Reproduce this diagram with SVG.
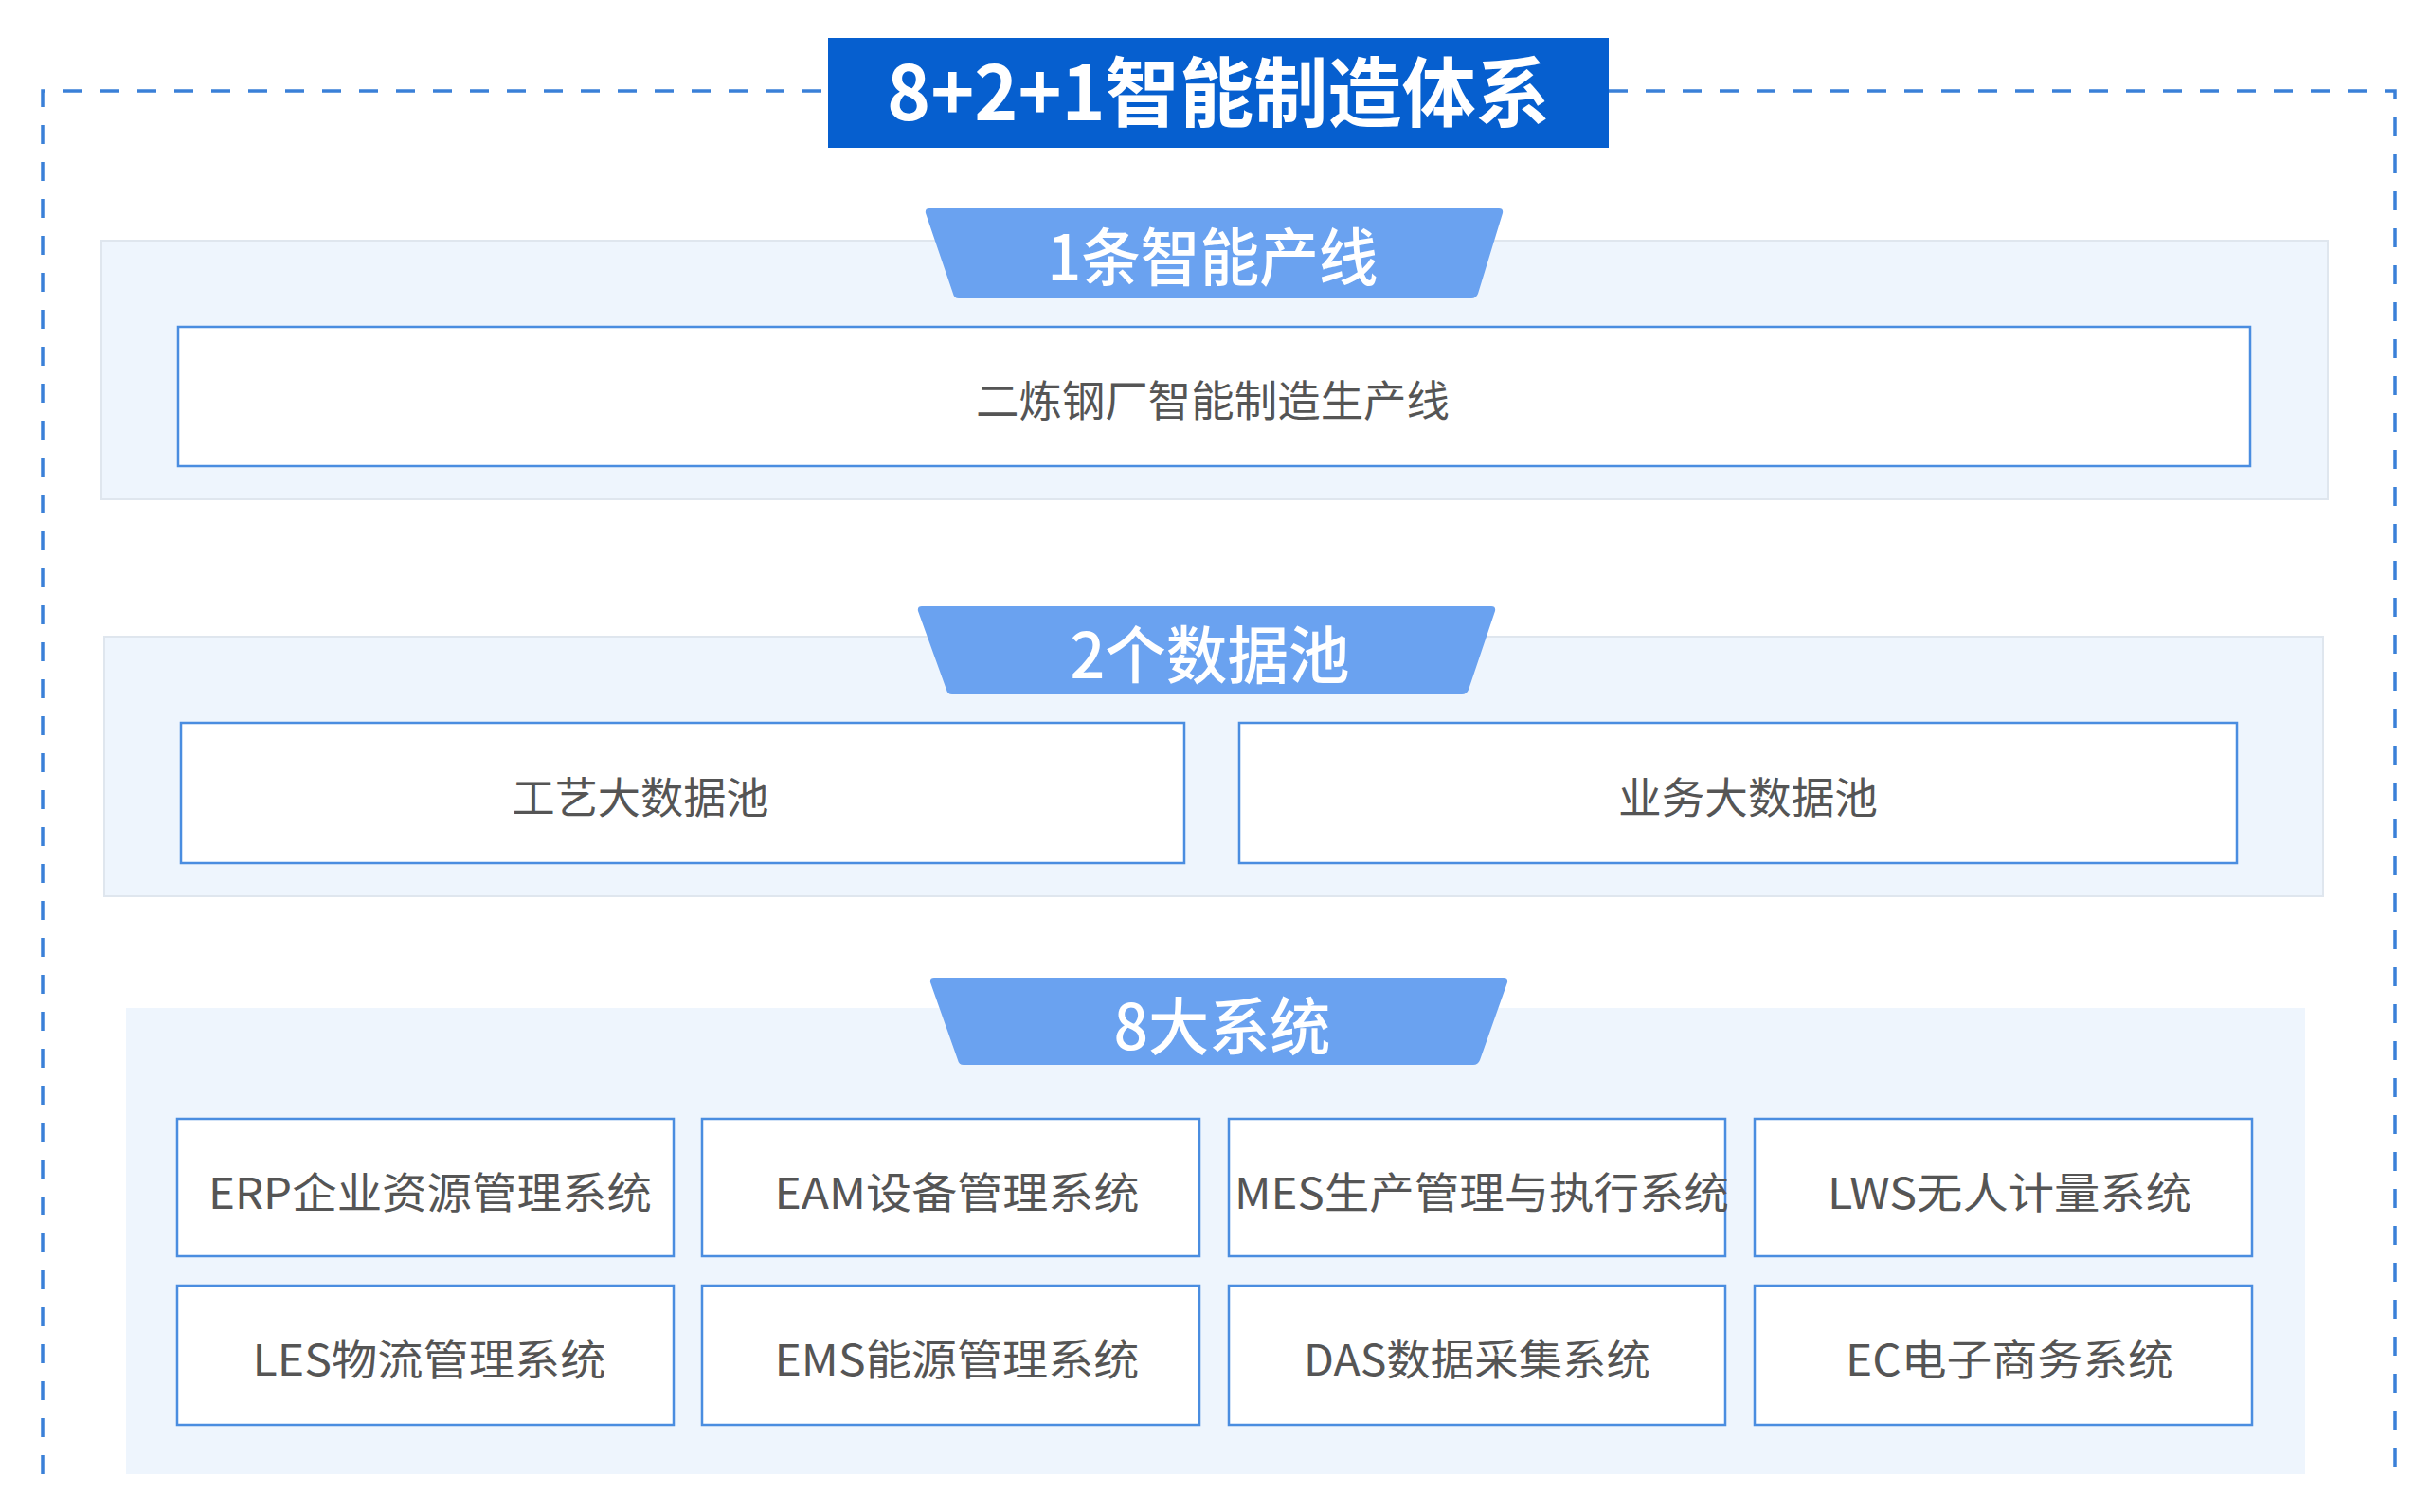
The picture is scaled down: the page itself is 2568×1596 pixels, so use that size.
<svg xmlns="http://www.w3.org/2000/svg" width="2568" height="1596" viewBox="0 0 2568 1596">
<style>
.panel{fill:#eef5fd;stroke:#dfe6ee;stroke-width:2}
.box{fill:#ffffff;stroke:#4a8de0;stroke-width:2.5}
.tab{fill:#6aa2f0}
.tabtxt{font-family:"Noto Sans CJK SC","Noto Sans",sans-serif;font-size:66px;font-weight:500;fill:#ffffff;text-anchor:middle;dominant-baseline:central}
.txt{font-family:"Noto Sans CJK SC","Noto Sans",sans-serif;font-size:45px;fill:#555555;text-anchor:middle;dominant-baseline:central}
.title{font-family:"Noto Sans CJK SC","Noto Sans",sans-serif;font-size:80px;font-weight:bold;fill:#ffffff;text-anchor:middle;dominant-baseline:central}
.dash{fill:none;stroke:#3a80d8;stroke-width:3.5;stroke-dasharray:20 19}
</style>
<rect width="2568" height="1596" fill="#ffffff"/>
<g id="frame">
<path class="dash" d="M45,1556 V96 H874"/>
<path class="dash" d="M1698,96 H2528 V1556"/>
</g>
<g id="title">
<rect x="874" y="40" width="824" height="116" fill="#065fcf"/>
<text class="title" x="1286" y="92" textLength="700" lengthAdjust="spacingAndGlyphs">8+2+1智能制造体系</text>
</g>
<g id="section1">
<rect class="panel" x="107" y="254" width="2350" height="273"/>
<path class="tab" d="M981,220 H1582 Q1587,220 1586,225 L1560,310 Q1558,315 1553,315 H1012 Q1007,315 1006,310 L977,225 Q976,220 981,220 Z"/>
<text class="tabtxt" x="1280" y="267" textLength="349" lengthAdjust="spacingAndGlyphs">1条智能产线</text>
</g>
<g id="node-line">
<rect class="box" x="188" y="345" width="2187" height="147"/>
<text class="txt" x="1280" y="420" textLength="500" lengthAdjust="spacingAndGlyphs">二炼钢厂智能制造生产线</text>
</g>
<g id="section2">
<rect class="panel" x="110" y="672" width="2342" height="274"/>
<path class="tab" d="M973,640 H1574 Q1579,640 1578,645 L1550,728 Q1548,733 1543,733 H1005 Q1000,733 999,728 L969,645 Q968,640 973,640 Z"/>
<text class="tabtxt" x="1277" y="687" textLength="295" lengthAdjust="spacingAndGlyphs">2个数据池</text>
</g>
<g id="node-pool1">
<rect class="box" x="191" y="763" width="1059" height="148"/>
<text class="txt" x="676" y="839" textLength="271" lengthAdjust="spacingAndGlyphs">工艺大数据池</text>
</g>
<g id="node-pool2">
<rect class="box" x="1308" y="763" width="1053" height="148"/>
<text class="txt" x="1845" y="839" textLength="274" lengthAdjust="spacingAndGlyphs">业务大数据池</text>
</g>
<g id="section3">
<rect x="133" y="1064" width="2300" height="492" fill="#eef5fd"/>
<path class="tab" d="M986,1032 H1587 Q1592,1032 1591,1037 L1562,1119 Q1560,1124 1555,1124 H1017 Q1012,1124 1011,1119 L982,1037 Q981,1032 986,1032 Z"/>
<text class="tabtxt" x="1290" y="1079" textLength="229" lengthAdjust="spacingAndGlyphs">8大系统</text>
</g>
<g id="node-erp">
<rect class="box" x="187" y="1181" width="524" height="145"/>
<text class="txt" x="454" y="1256" textLength="468" lengthAdjust="spacingAndGlyphs">ERP企业资源管理系统</text>
</g>
<g id="node-eam">
<rect class="box" x="741" y="1181" width="525" height="145"/>
<text class="txt" x="1010" y="1256" textLength="385" lengthAdjust="spacingAndGlyphs">EAM设备管理系统</text>
</g>
<g id="node-mes">
<rect class="box" x="1297" y="1181" width="524" height="145"/>
<text class="txt" x="1564" y="1256" textLength="522" lengthAdjust="spacingAndGlyphs">MES生产管理与执行系统</text>
</g>
<g id="node-lws">
<rect class="box" x="1852" y="1181" width="525" height="145"/>
<text class="txt" x="2121" y="1256" textLength="384" lengthAdjust="spacingAndGlyphs">LWS无人计量系统</text>
</g>
<g id="node-les">
<rect class="box" x="187" y="1357" width="524" height="147"/>
<text class="txt" x="453" y="1432" textLength="373" lengthAdjust="spacingAndGlyphs">LES物流管理系统</text>
</g>
<g id="node-ems">
<rect class="box" x="741" y="1357" width="525" height="147"/>
<text class="txt" x="1010" y="1432" textLength="385" lengthAdjust="spacingAndGlyphs">EMS能源管理系统</text>
</g>
<g id="node-das">
<rect class="box" x="1297" y="1357" width="524" height="147"/>
<text class="txt" x="1559" y="1432" textLength="366" lengthAdjust="spacingAndGlyphs">DAS数据采集系统</text>
</g>
<g id="node-ec">
<rect class="box" x="1852" y="1357" width="525" height="147"/>
<text class="txt" x="2121" y="1432" textLength="346" lengthAdjust="spacingAndGlyphs">EC电子商务系统</text>
</g>
<g id="connectors"></g>
</svg>
